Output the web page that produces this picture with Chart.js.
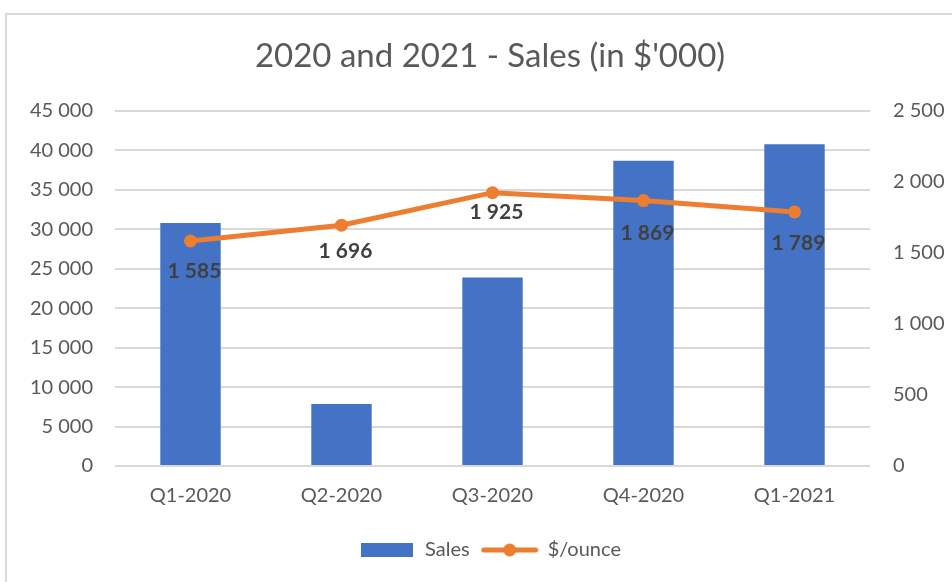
<!DOCTYPE html>
<html>
<head>
<meta charset="utf-8">
<script src="https://cdn.jsdelivr.net/npm/chart.js@4/dist/chart.umd.min.js"></script>
<style>
  html, body { margin: 0; padding: 0; width: 952px; height: 582px; overflow: hidden; background: #ffffff; }
  #frame { position: absolute; left: 5px; top: 13px; width: 1000px; height: 620px; border: 2px solid #d9d9d9; box-sizing: border-box; }
  #wrap { position: absolute; left: 0; top: 0; width: 980px; height: 582px; }
</style>
</head>
<body>
<div id="frame"></div>
<div id="wrap"><canvas id="c" width="980" height="582"></canvas></div>
<script>
const categories = ['Q1-2020', 'Q2-2020', 'Q3-2020', 'Q4-2020', 'Q1-2021'];
const salesValues = [30800, 7850, 23900, 38700, 40800];
const ounceValues = [1585, 1696, 1925, 1869, 1789];
const leftTicks = [0, 5000, 10000, 15000, 20000, 25000, 30000, 35000, 40000, 45000];
const rightTicks = [0, 500, 1000, 1500, 2000, 2500];

const FONT = 'Lato, "Open Sans", sans-serif';
const BLUE = '#4472C4';
const ORANGE = '#ED7D31';
const GREY = '#595959';

function fmt(v) {
  return String(Math.round(v)).replace(/\B(?=(\d{3})+(?!\d))/g, ' ');
}

// legend swatches
function makeBoxSwatch() {
  const c = document.createElement('canvas');
  c.width = 52; c.height = 14;
  const x = c.getContext('2d');
  x.fillStyle = BLUE; x.fillRect(0, 0, 52, 14);
  return c;
}
function makeLineSwatch() {
  const c = document.createElement('canvas');
  c.width = 58; c.height = 16;
  const x = c.getContext('2d');
  x.strokeStyle = ORANGE; x.lineWidth = 5; x.lineCap = 'round';
  x.beginPath(); x.moveTo(3, 8); x.lineTo(55, 8); x.stroke();
  x.fillStyle = ORANGE; x.beginPath(); x.arc(29, 8, 6.5, 0, Math.PI * 2); x.fill();
  return c;
}
const swatches = [makeBoxSwatch(), makeLineSwatch()];

// data label plugin (values drawn below each point)
const labelPlugin = {
  id: 'pointLabels',
  afterDatasetsDraw(chart, args, opts) {
    const meta = chart.getDatasetMeta(1);
    const ds = chart.data.datasets[1];
    const ctx = chart.ctx;
    ctx.save();
    ctx.font = 'bold 21px ' + FONT;
    ctx.fillStyle = '#404040';
    ctx.textAlign = 'center';
    ctx.textBaseline = 'middle';
    meta.data.forEach((pt, i) => {
      const dy = opts.offsets[i];
      ctx.fillText(fmt(ds.data[i]), pt.x + 4, pt.y + dy);
    });
    ctx.restore();
  }
};

new Chart(document.getElementById('c'), {
  data: {
    labels: categories,
    datasets: [
      {
        type: 'bar',
        label: 'Sales',
        data: salesValues,
        backgroundColor: BLUE,
        borderWidth: 0,
        barPercentage: 0.4,
        categoryPercentage: 1.0,
        yAxisID: 'y',
        order: 2
      },
      {
        type: 'line',
        label: '$/ounce',
        data: ounceValues,
        borderColor: ORANGE,
        backgroundColor: ORANGE,
        borderWidth: 5,
        pointRadius: 6.5,
        pointHoverRadius: 6.5,
        pointBackgroundColor: ORANGE,
        pointBorderWidth: 0,
        tension: 0,
        yAxisID: 'y1',
        order: 1
      }
    ]
  },
  options: {
    responsive: false,
    animation: false,
    events: [],
    layout: { padding: { bottom: 12 } },
    scales: {
      x: {
        grid: { display: false, drawTicks: false },
        border: { display: false },
        ticks: { color: GREY, font: { family: FONT, size: 20 }, padding: 18, maxRotation: 0 },
        afterFit(s) { s.height = 62; }
      },
      y: {
        position: 'left',
        min: 0, max: 45000,
        afterBuildTicks(s) { s.ticks = leftTicks.map(v => ({ value: v })); },
        grid: { color: '#d9d9d9', lineWidth: 2, drawTicks: false },
        border: { display: false },
        ticks: { color: GREY, font: { family: FONT, size: 20 }, padding: 22, callback: v => fmt(v) },
        afterFit(s) { s.width = 115; }
      },
      y1: {
        position: 'right',
        min: 0, max: 2500,
        afterBuildTicks(s) { s.ticks = rightTicks.map(v => ({ value: v })); },
        grid: { display: false, drawTicks: false },
        border: { display: false },
        ticks: { color: GREY, font: { family: FONT, size: 20 }, padding: 23, callback: v => fmt(v) },
        afterFit(s) { s.width = 110; }
      }
    },
    plugins: {
      title: {
        display: true,
        text: "2020 and 2021 - Sales (in $'000)",
        color: GREY,
        font: { family: FONT, size: 33, weight: 'normal', lineHeight: 1.2 },
        padding: { top: 37, bottom: 34.4 }
      },
      legend: {
        display: true,
        position: 'bottom',
        labels: {
          color: GREY,
          font: { family: FONT, size: 20 },
          usePointStyle: true,
          pointStyleWidth: 56,
          padding: 12,
          sort: (a, b) => a.datasetIndex - b.datasetIndex,
          generateLabels(chart) {
            const items = Chart.defaults.plugins.legend.labels.generateLabels(chart);
            items.forEach(it => { it.pointStyle = swatches[it.datasetIndex]; });
            return items;
          }
        }
      },
      tooltip: { enabled: false },
      pointLabels: { offsets: [30, 26, 20, 33, 31] }
    }
  },
  plugins: [labelPlugin]
});
</script>
</body>
</html>
